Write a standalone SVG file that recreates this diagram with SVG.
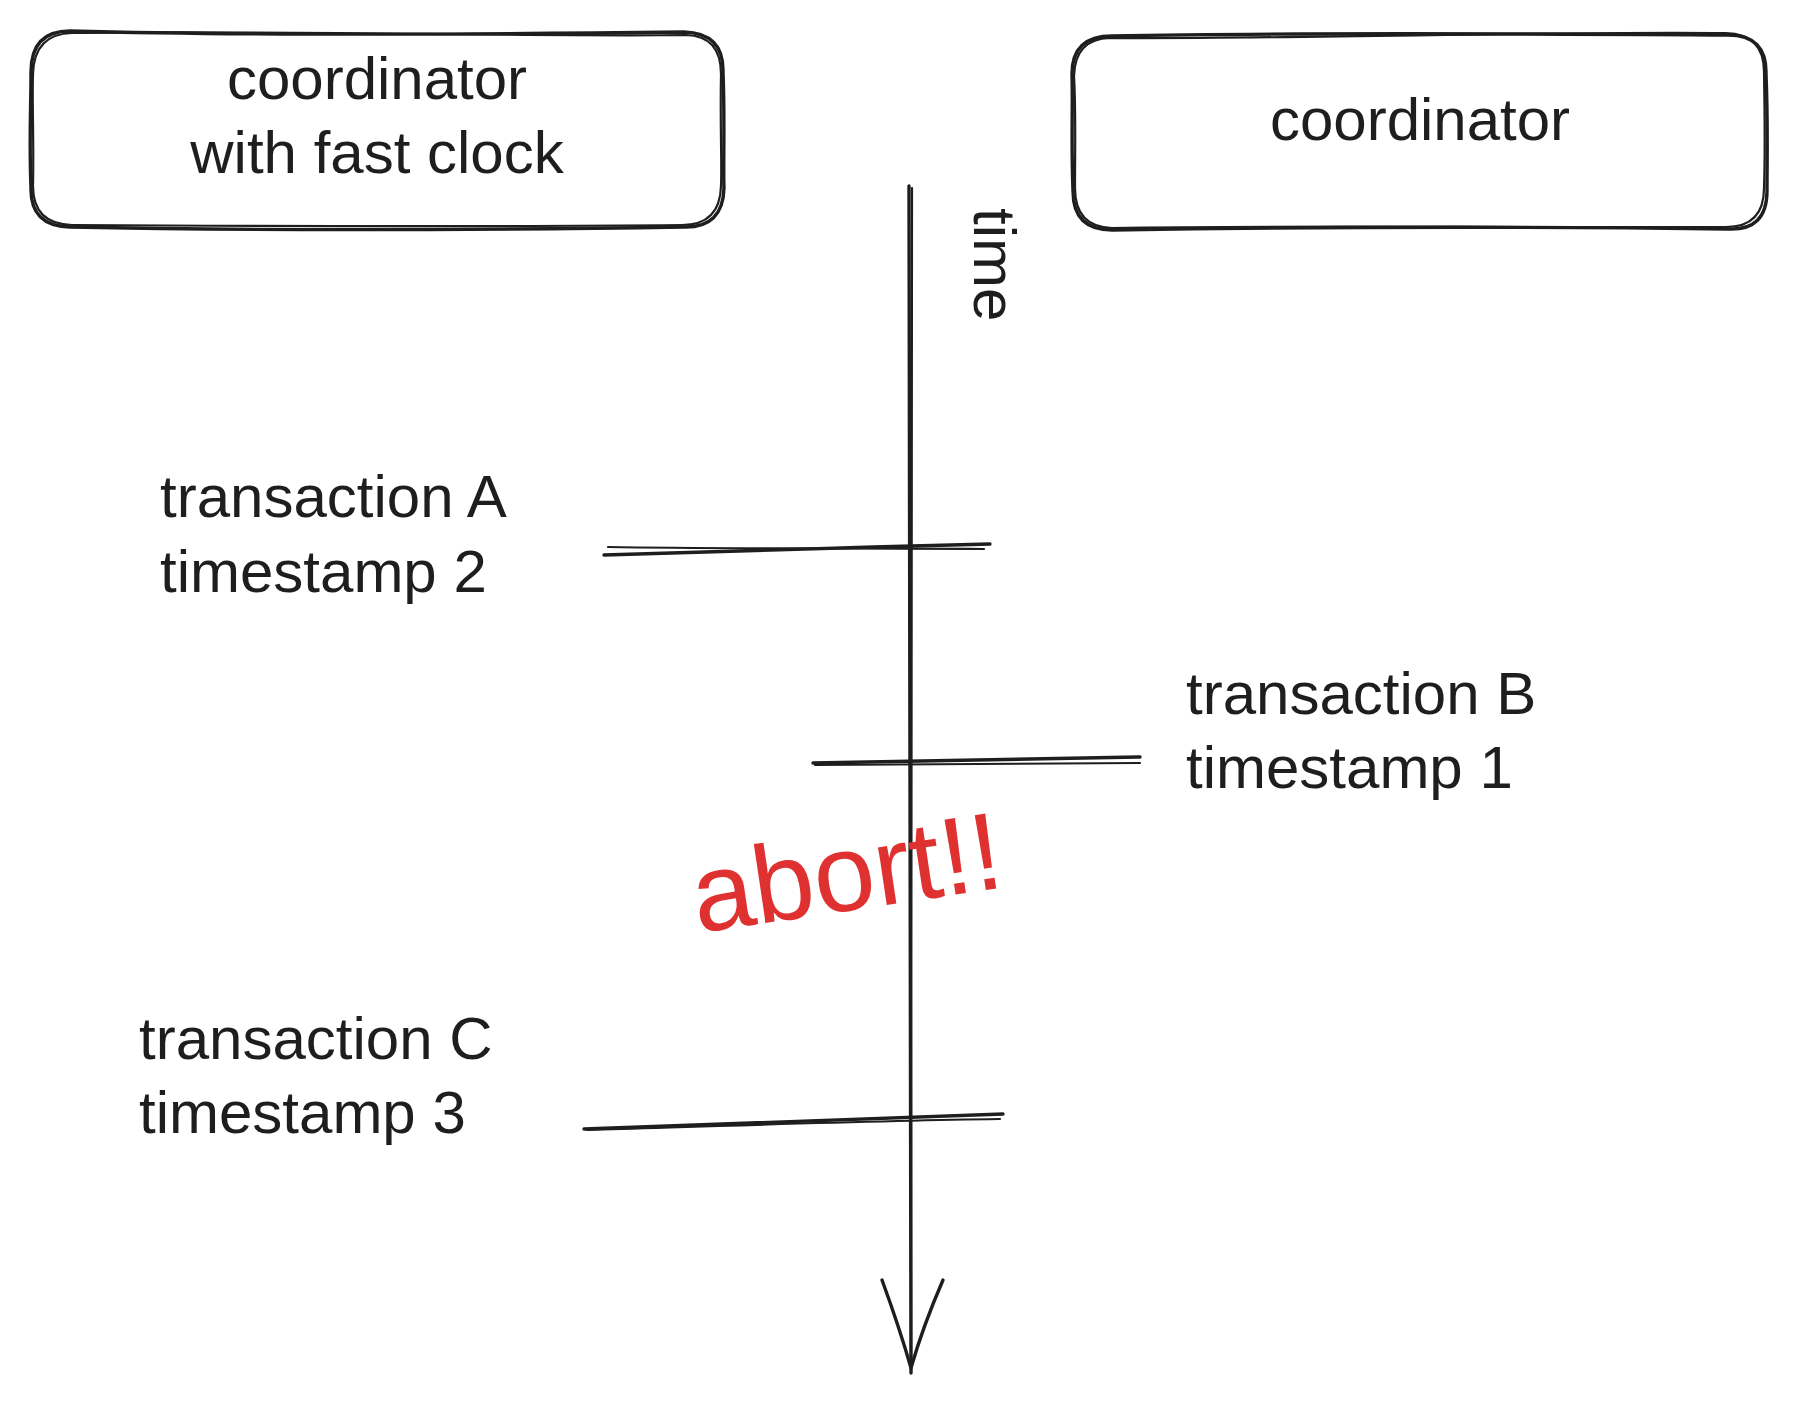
<svg xmlns="http://www.w3.org/2000/svg" width="1797" height="1402" viewBox="0 0 1797 1402">
<style>
.bg{fill:#ffffff}
.sk{fill:none;stroke:#1e1e1e;stroke-width:3.4;stroke-linecap:round;stroke-linejoin:round}
.sk2{fill:none;stroke:#1e1e1e;stroke-width:2.2;stroke-linecap:round;stroke-linejoin:round}
.t{font-family:"Liberation Sans",Arial,Helvetica,sans-serif;font-size:60px;fill:#1e1e1e}
.mid{text-anchor:middle}
.red{font-family:"Liberation Sans",Arial,Helvetica,sans-serif;font-size:110px;fill:#e03131;text-anchor:middle}
</style>
<rect class="bg" x="0" y="0" width="1797" height="1402"/>

<g id="node-coordinator-fast">
  <path class="sk" d="M70 31 C260 36 520 34 684 32 Q724 33 723 72 C725 120 723 170 724 188 Q723 228 684 227 C480 230 260 231 70 227 Q30 226 31 188 C29 140 31 110 31 72 Q31 31 70 31 Z"/>
  <path class="sk2" d="M72 33 C300 30 520 37 686 35 Q721 36 721 74 C720 130 722 160 721 186 Q720 225 682 225 C470 227 240 226 72 225 Q33 224 33 186 C34 140 32 100 33 74 Q34 34 72 33"/>
  <text class="t mid" x="377" y="99">coordinator</text>
  <text class="t mid" x="377" y="173">with fast clock</text>
</g>

<g id="node-coordinator">
  <path class="sk" d="M1112 36 C1300 32 1560 34 1728 35 Q1767 35 1766 74 C1768 120 1767 160 1767 191 Q1767 231 1728 229 C1500 226 1300 227 1112 230 Q1073 230 1073 191 C1071 140 1073 110 1072 74 Q1072 36 1112 36 Z"/>
  <path class="sk2" d="M1110 38 C1320 39 1540 31 1726 33 Q1764 34 1764 72 C1765 130 1765 160 1764 188 Q1764 227 1726 227 C1520 228 1290 225 1112 228 Q1075 227 1075 188 C1075 150 1076 110 1074 76 Q1075 39 1110 38"/>
  <text class="t mid" x="1420" y="140">coordinator</text>
</g>

<g id="connectors">
  <g id="time-axis">
    <path class="sk" d="M909 186 C910 500 910 900 911 1373"/>
    <path class="sk2" d="M912 188 C911 600 912 1000 911 1360"/>
    <path class="sk" d="M882 1280 C893 1310 903 1340 911 1368 C919 1340 930 1310 943 1280"/>
  </g>
  <g id="tick-a">
    <path class="sk" d="M604 555 C720 552 860 547 990 544"/>
    <path class="sk2" d="M608 547 C720 549 860 548 984 549"/>
  </g>
  <g id="tick-b">
    <path class="sk" d="M813 763 C920 762 1030 759 1140 757"/>
    <path class="sk2" d="M815 765 C930 764 1040 763 1140 763"/>
  </g>
  <g id="tick-c">
    <path class="sk" d="M584 1129 C720 1124 860 1119 1003 1114"/>
    <path class="sk2" d="M587 1130 C720 1126 860 1121 1000 1119"/>
  </g>
</g>

<g id="label-time">
  <text class="t" transform="translate(974 208) rotate(90)" x="0" y="0">time</text>
</g>

<g id="label-transaction-a">
  <text class="t" x="160" y="517">transaction A</text>
  <text class="t" x="160" y="592">timestamp 2</text>
</g>

<g id="label-transaction-b">
  <text class="t" x="1186" y="714">transaction B</text>
  <text class="t" x="1186" y="788">timestamp 1</text>
</g>

<g id="label-transaction-c">
  <text class="t" x="139" y="1059">transaction C</text>
  <text class="t" x="139" y="1133">timestamp 3</text>
</g>

<g id="label-abort">
  <text class="red" transform="translate(852 910) rotate(-8.5)" x="0" y="0">abort!!</text>
</g>
</svg>
